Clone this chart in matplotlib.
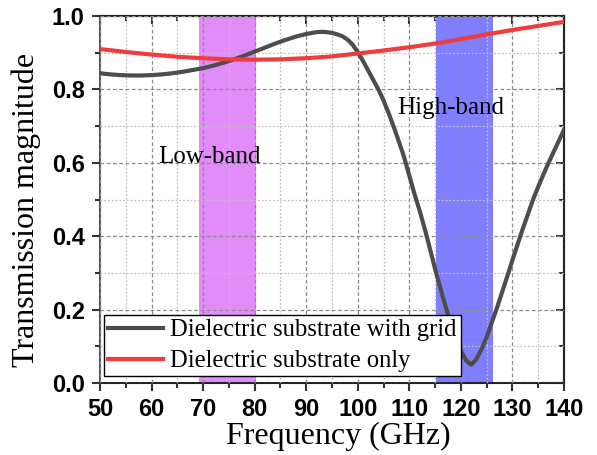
import numpy as np
import matplotlib.pyplot as plt
from matplotlib.ticker import MultipleLocator

# Transmission data
freq_grid = [50, 52, 54, 56, 58, 60, 62, 64, 66, 68, 70, 72, 74, 76, 78, 80,
             82, 84, 86, 88, 90, 92, 93, 94, 95, 96, 97, 98, 99, 100, 101, 102,
             103, 104, 105, 106, 107, 108, 109, 110, 111, 112, 113, 114, 115,
             116, 117, 118, 119, 120, 121, 122, 123, 124, 125, 126, 127, 128,
             129, 130, 131, 132, 133, 134, 135, 136, 137, 138, 139, 140]
t_grid = [0.844, 0.841, 0.839, 0.838, 0.838, 0.839, 0.841, 0.844, 0.848, 0.853,
          0.858, 0.865, 0.873, 0.882, 0.892, 0.903, 0.914, 0.925, 0.935, 0.944,
          0.951, 0.956, 0.957, 0.956, 0.954, 0.950, 0.945, 0.936, 0.922, 0.902,
          0.878, 0.852, 0.826, 0.800, 0.770, 0.735, 0.697, 0.657, 0.615, 0.565,
          0.515, 0.470, 0.420, 0.366, 0.311, 0.260, 0.210, 0.165, 0.123, 0.088,
          0.062, 0.050, 0.065, 0.092, 0.125, 0.165, 0.205, 0.248, 0.291, 0.335,
          0.378, 0.420, 0.460, 0.500, 0.535, 0.568, 0.600, 0.630, 0.660, 0.690]

freq_sub = [50, 55, 60, 65, 70, 75, 80, 85, 90, 95, 100, 105, 110, 115, 120,
            125, 130, 135, 140]
t_sub = [0.910, 0.902, 0.895, 0.889, 0.885, 0.882, 0.881, 0.882, 0.885, 0.890,
         0.898, 0.906, 0.915, 0.925, 0.937, 0.950, 0.962, 0.973, 0.984]

low_band = (69.3, 80.3)
high_band = (115.1, 126.3)

serif = 'Liberation Serif'
sans = 'Liberation Sans'

fig = plt.figure(figsize=(5.97, 4.55), dpi=100)
ax = fig.add_axes([0.1675, 0.158, 0.7772, 0.8068])

ax.axvspan(*low_band, color='#e28cf9', lw=0, zorder=1)
ax.axvspan(*high_band, color='#7f7fff', lw=0, zorder=1)

ax.plot(freq_grid, t_grid, color='#4d4d4d', lw=3, zorder=3,
        label='Dielectric substrate with grid')
ax.plot(freq_sub, t_sub, color='#f03c3c', lw=3, zorder=3,
        label='Dielectric substrate only')

ax.set_xlim(50, 140)
ax.set_ylim(0, 1.0)
ax.xaxis.set_major_locator(MultipleLocator(10))
ax.xaxis.set_minor_locator(MultipleLocator(5))
ax.yaxis.set_major_locator(MultipleLocator(0.2))
ax.yaxis.set_minor_locator(MultipleLocator(0.1))

ax.set_axisbelow(False)
ax.grid(which='major', color='#8c8c8c', ls=(0, (3, 2)), lw=0.9)
ax.grid(which='minor', color='#c0c0c0', ls=(0, (1.5, 1.5)), lw=0.9)

ax.tick_params(which='both', direction='out', width=1.5, colors='#333333')
ax.tick_params(which='major', length=6, labelsize=17, pad=5)
ax.tick_params(which='minor', length=3.5)
for lab in ax.get_xticklabels() + ax.get_yticklabels():
    lab.set_fontfamily(sans)
    lab.set_fontweight('bold')
    lab.set_color('black')

# mirrored ticks pointing inward on top and right
top = ax.secondary_xaxis('top')
top.xaxis.set_major_locator(MultipleLocator(10))
top.xaxis.set_minor_locator(MultipleLocator(5))
right = ax.secondary_yaxis('right')
right.yaxis.set_major_locator(MultipleLocator(0.2))
right.yaxis.set_minor_locator(MultipleLocator(0.1))
for sec in (top, right):
    sec.tick_params(which='both', direction='in', width=1.5, colors='#333333',
                    labeltop=False, labelright=False)
    sec.tick_params(which='major', length=6)
    sec.tick_params(which='minor', length=3.5)
    for sp in sec.spines.values():
        sp.set_linewidth(1.5)
        sp.set_color('#222222')

for sp in ax.spines.values():
    sp.set_linewidth(1.5)
    sp.set_color('#222222')
ax.spines['left'].set_color('#555555')

ax.set_xlabel('Frequency (GHz)', fontfamily=serif, fontsize=23)
ax.set_ylabel('Transmission magnitude', fontfamily=serif, fontsize=23)
ax.xaxis.set_label_coords(0.513, -0.105, transform=ax.transAxes)
ax.yaxis.set_label_coords(-0.128, 0.473, transform=ax.transAxes)

ax.text(71.3, 0.616, 'Low-band', fontfamily=serif, fontsize=18,
        ha='center', va='center', zorder=4)
ax.text(118.1, 0.749, 'High-band', fontfamily=serif, fontsize=18,
        ha='center', va='center', zorder=4)

leg = ax.legend(loc='lower left', bbox_to_anchor=(0.0086, 0.019),
                borderaxespad=0, fancybox=False, framealpha=1,
                edgecolor='black', prop={'family': serif, 'size': 17.7},
                handlelength=2.25, handletextpad=0.3, labelspacing=0.36,
                borderpad=0.15)
leg.get_frame().set_linewidth(1.0)
leg.set_zorder(5)

fig.savefig('out.png', dpi=100)
